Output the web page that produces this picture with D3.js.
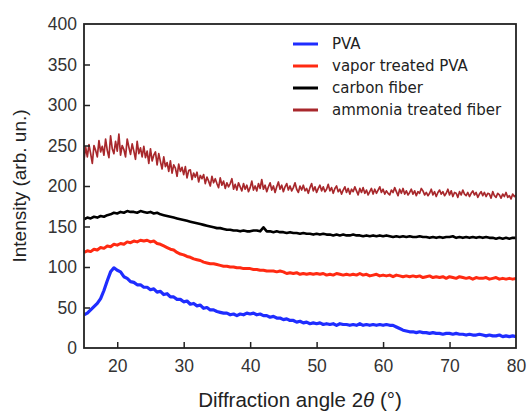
<!DOCTYPE html>
<html>
<head>
<meta charset="utf-8">
<script src="https://cdn.jsdelivr.net/npm/d3@7"></script>
<style>
  body { margin: 0; background: #fff; }
  svg { display: block; }
</style>
</head>
<body>
<div id="main"></div>
<script>
// x values: start + step*i
var xStartFine = 15, xStepFine = 0.25;  // ammonia series
var xStart = 15, xStep = 0.5;           // other series

var xTicks = [20, 30, 40, 50, 60, 70, 80];
var yTicks = [0, 50, 100, 150, 200, 250, 300, 350, 400];

var seriesNames = ["PVA", "vapor treated PVA", "carbon fiber", "ammonia treated fiber"];
var seriesColors = ["#1f2dff", "#ff2a12", "#000000", "#a8282c"];

var pva = [
  41,43,47,51,55,61,71,83,94,99,
  96,94,88,86,82,81,78,78,75,75,
  72,73,69,70,66,67,63,63,60,60,
  57,58,54,55,52,53,49,50,47,47,
  45,44,43,43,41,42,40,42,41,43,
  42,43,41,42,40,40,38,39,37,37,
  35,36,34,34,32,33,31,32,30,31,
  30,31,29,30,29,30,28,30,29,29,
  28,29,28,30,28,29,28,29,28,29,
  28,29,28,28,26,24,22,21,20,20,
  19,20,19,19,18,19,18,18,17,18,
  18,17,18,17,17,16,17,16,16,17,
  16,15,16,15,15,16,14,15,14,15,
  14
];

var vaporPva = [
  118,120,119,122,121,124,123,126,125,128,
  127,129,128,131,130,132,131,133,132,133,
  131,132,129,128,126,124,122,121,118,116,
  115,113,112,110,109,108,106,105,104,104,
  103,102,101,101,100,100,99,99,98,98,
  98,97,97,96,96,95,95,95,94,95,
  94,92,93,92,93,91,92,91,92,91,
  92,91,92,90,91,90,92,91,90,91,
  90,91,90,92,90,91,89,90,91,89,
  90,89,90,88,90,89,88,89,88,89,
  88,89,87,88,89,87,88,87,88,86,
  88,87,86,88,87,86,87,85,87,86,
  86,87,85,86,87,85,86,85,86,85,
  86
];

var carbonFiber = [
  159,161,160,162,161,163,162,164,165,167,
  166,168,167,169,168,168,167,169,168,167,
  168,166,167,165,164,163,162,161,160,159,
  158,157,156,155,154,153,152,151,150,149,
  148,148,147,146,146,145,145,144,145,144,
  144,145,145,144,149,144,144,143,144,143,
  143,142,143,142,142,141,142,141,141,140,
  141,140,141,140,140,139,140,139,140,139,
  139,140,139,139,138,139,138,139,138,139,
  138,139,138,137,138,137,138,137,138,137,
  137,138,137,137,136,137,136,137,136,137,
  137,138,136,137,136,137,136,137,136,137,
  136,137,136,136,135,136,135,136,135,136,
  136
];

var ammoniaFiber = [
  232,248,236,251, 240,228,250,244, 236,256,242,249, 238,258,244,235,
  262,246,240,255, 243,264,238,250, 245,236,258,248, 239,252,243,233,
  255,240,247,236, 249,235,243,228, 246,231,238,242, 226,240,230,221,
  236,224,229,218, 231,216,226,222, 212,227,218,223, 214,224,210,219,
  220,208,216,211, 217,205,213,209, 214,203,211,206, 200,212,204,209,
  203,198,210,201, 206,197,204,199, 203,209,196,202, 195,204,199,194,
  203,196,201,193, 198,206,195,200, 194,203,197,208, 196,201,193,199,
  204,195,200,192, 199,205,196,201, 193,199,203,195, 200,194,198,204,
  196,192,200,195, 201,194,197,191, 198,203,194,199, 192,197,201,194,
  199,193,196,202, 194,198,191,197, 200,193,196,190, 195,199,192,197,
  190,196,193,199, 194,189,197,192, 198,191,195,189, 193,197,190,196,
  191,195,199,192, 196,190,194,191, 189,195,192,198, 193,188,196,191,
  197,190,194,189, 192,196,190,194, 188,193,191,197, 194,189,192,188,
  191,196,189,193, 187,192,195,190, 193,188,191,196, 189,194,187,192,
  191,186,193,189, 195,190,188,192, 187,191,194,189, 192,186,190,193,
  188,192,187,191, 190,185,193,188, 186,191,189,185, 190,187,192,186,
  188,184,190,187, 189
];

var width = 527, height = 414;
var plotLeft = 84, plotRight = 516, plotTop = 24, plotBottom = 348;

var svg = d3.select("#main").append("svg")
    .attr("width", width)
    .attr("height", height);

var x = d3.scaleLinear().domain([15, 80]).range([plotLeft, plotRight]);
var y = d3.scaleLinear().domain([0, 400]).range([plotBottom, plotTop]);

function toPoints(vals, start, step) {
  return vals.map(function(v, i) { return [start + step * i, v]; });
}

var allSeries = [
  toPoints(pva, xStart, xStep),
  toPoints(vaporPva, xStart, xStep),
  toPoints(carbonFiber, xStart, xStep),
  toPoints(ammoniaFiber, xStartFine, xStepFine)
];
var widths = [3.2, 3, 2.6, 1.7];

var line = d3.line()
    .x(function(d) { return x(d[0]); })
    .y(function(d) { return y(d[1]); });

svg.append("clipPath").attr("id", "plotClip")
  .append("rect")
    .attr("x", plotLeft).attr("y", plotTop)
    .attr("width", plotRight - plotLeft).attr("height", plotBottom - plotTop);

var plot = svg.append("g").attr("clip-path", "url(#plotClip)");

// draw back to front: ammonia, carbon, vapor, PVA
[3, 2, 1, 0].forEach(function(k) {
  plot.append("path")
      .attr("d", line(allSeries[k]))
      .attr("fill", "none")
      .attr("stroke", seriesColors[k])
      .attr("stroke-width", widths[k])
      .attr("stroke-linejoin", "round");
});

// axes, ticks pointing inward
var xAxis = d3.axisBottom(x).tickValues(xTicks).tickSizeInner(-6).tickSizeOuter(0).tickPadding(12);
var yAxis = d3.axisLeft(y).tickValues(yTicks).tickSizeInner(-6).tickSizeOuter(0).tickPadding(7);

var gx = svg.append("g").attr("transform", "translate(0," + plotBottom + ")").call(xAxis);
var gy = svg.append("g").attr("transform", "translate(" + plotLeft + ",0)").call(yAxis);

[gx, gy].forEach(function(g) {
  g.select(".domain").remove();
  g.selectAll(".tick line").attr("stroke", "#222").attr("stroke-width", 1.5);
  g.selectAll(".tick text")
    .attr("fill", "#333")
    .style("font-family", "Liberation Sans, Arial, sans-serif")
    .style("font-size", "17.5px");
});
gy.selectAll(".tick").filter(function(d) { return d === 0 || d === 400; }).select("line").remove();
gx.selectAll(".tick").filter(function(d) { return d === 80; }).select("line").remove();

// frame
svg.append("rect")
    .attr("x", plotLeft).attr("y", plotTop)
    .attr("width", plotRight - plotLeft).attr("height", plotBottom - plotTop)
    .attr("fill", "none")
    .attr("stroke", "#222")
    .attr("stroke-width", 1.8);

// axis labels
svg.append("text")
    .attr("transform", "translate(26," + ((plotTop + plotBottom) / 2) + ") rotate(-90)")
    .attr("text-anchor", "middle")
    .style("font-family", "Liberation Sans, Arial, sans-serif")
    .style("font-size", "19px")
    .attr("fill", "#222")
    .text("Intensity (arb. un.)");

var xl = svg.append("text")
    .attr("x", 300).attr("y", 407)
    .attr("text-anchor", "middle")
    .style("font-family", "Liberation Sans, Arial, sans-serif")
    .style("font-size", "20.5px")
    .attr("fill", "#222");
xl.append("tspan").text("Diffraction angle 2");
xl.append("tspan").style("font-style", "italic").text("θ");
xl.append("tspan").text(" (°)");

// legend
var legend = svg.append("g");
seriesNames.forEach(function(name, i) {
  var ly = 44 + i * 22;
  legend.append("line")
      .attr("x1", 293).attr("x2", 318)
      .attr("y1", ly).attr("y2", ly)
      .attr("stroke", seriesColors[i])
      .attr("stroke-width", 3);
  legend.append("text")
      .attr("x", 332).attr("y", ly + 5)
      .style("font-family", "DejaVu Sans, sans-serif")
      .style("font-size", "15px")
      .attr("fill", "#222")
      .text(name);
});
</script>
</body>
</html>
